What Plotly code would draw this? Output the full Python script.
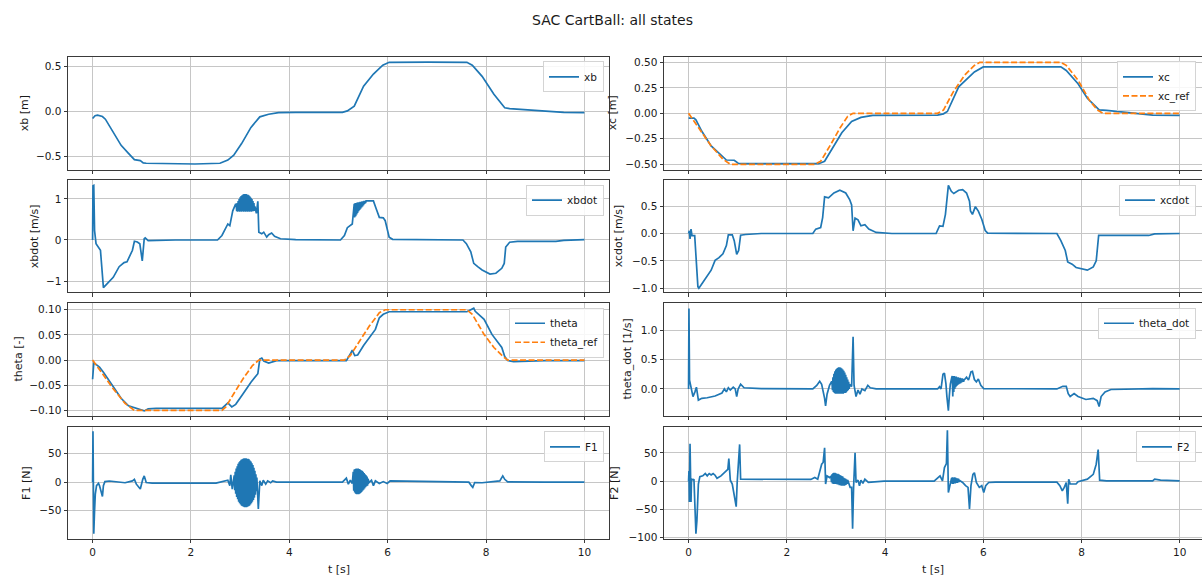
import numpy as np
import plotly.graph_objects as go

# ---------------------------------------------------------------- data
SAMPLE_DT = 0.01  # controller sample time used for the high-rate bursts

xb_pts = [(0, -0.08), (0.05, -0.05), (0.1, -0.044), (0.2, -0.058), (0.26, -0.088), (0.42, -0.23),
          (0.58, -0.38), (0.73, -0.47), (0.85, -0.54), (0.97, -0.55), (1.03, -0.575), (1.09, -0.58),
          (1.45, -0.584), (2.08, -0.588), (2.59, -0.58), (2.75, -0.544), (2.87, -0.49), (3.03, -0.36),
          (3.22, -0.18), (3.4, -0.062), (3.58, -0.033), (3.78, -0.015), (4.13, -0.011), (5.08, -0.011),
          (5.18, 0.004), (5.32, 0.058), (5.51, 0.28), (5.71, 0.416), (5.9, 0.515), (6.03, 0.547),
          (6.82, 0.548), (7.61, 0.547), (7.72, 0.515), (7.92, 0.39), (8.16, 0.19), (8.38, 0.04),
          (8.48, 0.03), (9.19, 0.004), (9.58, -0.011), (10, -0.015)]

xc_pts = [(0, -0.047), (0.11, -0.047), (0.15, -0.063), (0.27, -0.176), (0.46, -0.32), (0.66, -0.41),
          (0.77, -0.458), (0.93, -0.46), (1.01, -0.49), (1.16, -0.494), (2.1, -0.497), (2.65, -0.494),
          (2.77, -0.47), (2.92, -0.355), (3.12, -0.19), (3.32, -0.08), (3.51, -0.04), (3.75, -0.02),
          (5.07, -0.018), (5.19, -0.005), (5.27, 0.018), (5.5, 0.26), (5.7, 0.35), (5.82, 0.406),
          (6.0, 0.455), (7.58, 0.455), (7.69, 0.42), (7.93, 0.29), (8.12, 0.147), (8.36, 0.034),
          (8.51, 0.028), (9.14, 0.002), (9.45, -0.018), (10, -0.02)]

xc_ref_pts = [(0, 0), (0.23, -0.16), (0.46, -0.32), (0.7, -0.45), (0.85, -0.5), (2.57, -0.5),
              (2.69, -0.47), (2.89, -0.31), (3.08, -0.146), (3.24, -0.03), (3.35, 0), (5.07, 0),
              (5.19, 0.032), (5.39, 0.21), (5.62, 0.373), (5.82, 0.47), (5.93, 0.5), (7.58, 0.5),
              (7.69, 0.47), (7.93, 0.325), (8.16, 0.13), (8.32, 0.034), (8.44, 0), (10, 0)]

xbdot_pts = [(0, 0), (0.008, 1.32), (0.024, 1.33), (0.04, 0.23), (0.07, -0.09), (0.12, -0.17),
             (0.16, -0.25), (0.22, -1.16), (0.3, -1.05), (0.42, -0.91), (0.54, -0.65), (0.64, -0.55),
             (0.7, -0.53), (0.81, -0.25), (0.85, -0.03), (0.91, -0.05), (0.96, -0.09), (1.01, -0.51),
             (1.05, 0.03), (1.07, 0.05), (1.13, -0.016), (1.29, -0.008), (1.68, 0), (2.54, 0),
             (2.63, 0.11), (2.75, 0.39), (2.79, 0.35), (2.85, 0.71), (2.91, 0.88),
             (3.33, 0.65), (3.36, 0.94), (3.38, 0.19), (3.44, 0.15), (3.48, 0.19), (3.54, 0.07),
             (3.58, 0.13), (3.64, 0.17), (3.7, 0.09), (3.82, 0.03), (4.13, 0.008), (5.04, 0),
             (5.12, 0.11), (5.18, 0.3), (5.24, 0.35), (5.28, 0.39),
             (5.58, 0.95), (5.71, 0.95), (5.77, 0.75), (5.83, 0.55), (5.91, 0.54), (5.95, 0.47),
             (6.03, 0.07), (6.1, 0.016), (7.53, 0), (7.6, -0.09), (7.69, -0.29), (7.75, -0.57),
             (7.83, -0.65), (7.92, -0.73), (8.08, -0.83), (8.2, -0.81), (8.32, -0.69), (8.37, -0.57),
             (8.4, -0.17), (8.48, -0.056), (8.64, -0.032), (9.42, -0.032), (9.58, -0.008), (10, 0.008)]
xbdot_burst1 = (2.92, [0.86, 0.70, 0.90, 0.69, 0.95, 0.70, 1.00, 0.69, 1.04, 0.70, 1.07, 0.69, 1.09,
                       0.70, 1.11, 0.69, 1.12, 0.70, 1.12, 0.69, 1.12, 0.70, 1.11, 0.69, 1.10, 0.70,
                       1.08, 0.69, 1.06, 0.70, 1.03, 0.69, 1.00, 0.70, 0.95, 0.70, 0.90, 0.71, 0.82])
xbdot_burst2 = (5.32, [0.88, 0.55, 0.90, 0.58, 0.90, 0.62, 0.91, 0.66, 0.92, 0.70, 0.92, 0.73, 0.93,
                       0.76, 0.93, 0.79, 0.94, 0.82, 0.94, 0.85, 0.95, 0.88, 0.95, 0.90, 0.95])

xcdot_pts = [(0, 0), (0.016, 0.05), (0.03, -0.1), (0.05, 0.08), (0.07, -0.04), (0.125, -0.04),
             (0.19, -0.97), (0.21, -1.0), (0.3, -0.88), (0.46, -0.67), (0.54, -0.49), (0.62, -0.44),
             (0.7, -0.37), (0.77, -0.22), (0.81, -0.024), (0.89, -0.024), (0.93, -0.13), (0.98, -0.38),
             (1.02, -0.31), (1.06, -0.03), (1.16, -0.018), (1.48, 0), (2.53, 0), (2.59, 0.08),
             (2.69, 0.11), (2.73, 0.29), (2.77, 0.67), (2.85, 0.65), (2.96, 0.74), (3.08, 0.79),
             (3.2, 0.74), (3.28, 0.62), (3.32, 0.52), (3.35, 0.05), (3.39, 0.28), (3.45, 0.25),
             (3.51, 0.14), (3.59, 0.16), (3.67, 0.08), (3.82, 0.02), (4.14, 0), (5.04, 0),
             (5.11, 0.14), (5.18, 0.13), (5.23, 0.35), (5.29, 0.88), (5.35, 0.77), (5.4, 0.73),
             (5.5, 0.79), (5.58, 0.8), (5.66, 0.74), (5.72, 0.59), (5.74, 0.41), (5.78, 0.35),
             (5.84, 0.49), (5.9, 0.41), (5.97, 0.26), (6.04, 0.054), (6.09, 0.006), (7.5, 0),
             (7.58, -0.13), (7.67, -0.31), (7.72, -0.52), (7.81, -0.56), (7.89, -0.62), (8.0, -0.65),
             (8.12, -0.67), (8.24, -0.61), (8.3, -0.5), (8.35, -0.036), (8.43, -0.036),
             (9.37, -0.036), (9.49, -0.006), (10, 0)]

theta_pts = [(0, -0.038), (0.024, -0.006), (0.063, -0.008), (0.14, -0.014), (0.22, -0.024),
             (0.42, -0.053), (0.58, -0.076), (0.73, -0.091), (0.89, -0.096), (1.05, -0.101),
             (1.13, -0.097), (1.29, -0.096), (2.63, -0.096), (2.75, -0.085), (2.83, -0.093),
             (2.91, -0.088), (3.06, -0.067), (3.22, -0.044), (3.36, -0.027), (3.4, 0.002),
             (3.44, 0.004), (3.48, -0.002), (3.58, -0.006), (3.74, -0.001), (4.05, -0.001),
             (5.16, -0.001), (5.24, 0.012), (5.28, 0.02), (5.33, 0.009), (5.39, 0.010), (5.51, 0.029),
             (5.67, 0.051), (5.75, 0.061), (5.83, 0.084), (5.91, 0.091), (6.03, 0.096), (7.61, 0.096),
             (7.69, 0.1), (7.75, 0.103), (7.78, 0.097), (7.96, 0.081), (8.12, 0.051), (8.32, 0.025),
             (8.38, 0.007), (8.44, -0.001), (8.56, -0.003), (9.19, -0.001), (10, -0.001)]

theta_ref_pts = [(0, 0), (0.18, -0.024), (0.42, -0.057), (0.66, -0.086), (0.85, -0.1), (2.63, -0.1),
                 (2.71, -0.093), (2.87, -0.067), (3.06, -0.037), (3.25, -0.011), (3.38, 0), (5.12, 0),
                 (5.24, 0.009), (5.43, 0.038), (5.63, 0.068), (5.83, 0.094), (5.95, 0.1), (7.61, 0.1),
                 (7.72, 0.091), (7.96, 0.051), (8.16, 0.025), (8.36, 0.006), (8.44, 0), (10, 0)]

theta_dot_pts = [(0, 0), (0.008, 1.37), (0.02, 0.15), (0.05, 0.0), (0.09, -0.13), (0.13, -0.05),
                 (0.16, 0.03), (0.2, -0.19), (0.27, -0.16), (0.38, -0.15), (0.54, -0.12), (0.68, -0.07),
                 (0.73, 0.0), (0.77, -0.05), (0.81, 0.02), (0.85, -0.02), (0.91, 0.03), (0.95, 0),
                 (0.98, -0.13), (1.01, 0), (1.06, 0.08), (1.13, 0.02), (1.48, 0.006), (2.53, 0),
                 (2.61, 0.06), (2.67, 0.13), (2.71, 0.08), (2.77, -0.16), (2.79, -0.29), (2.82, -0.09),
                 (2.87, 0.06), (2.91, 0.12),
                 (3.32, 0.04), (3.35, 0.89), (3.37, 0.06), (3.41, -0.13), (3.45, -0.02), (3.49, -0.09),
                 (3.53, 0), (3.59, -0.03), (3.65, 0.06), (3.7, 0.02), (3.82, 0), (5.07, 0), (5.11, 0.04),
                 (5.14, 0), (5.15, 0.06), (5.18, 0.25), (5.21, 0.27), (5.24, 0.09), (5.26, -0.13),
                 (5.29, -0.37), (5.31, -0.11), (5.33, 0.08), (5.36, 0.2),
                 (5.62, 0.16), (5.66, 0.2), (5.7, 0.15), (5.75, 0.29), (5.78, 0.3), (5.82, 0.16),
                 (5.86, 0.12), (5.9, 0.17), (5.95, 0.06), (6.01, 0.006), (7.5, 0), (7.62, 0.045),
                 (7.69, 0.045), (7.73, -0.08), (7.77, -0.13), (7.85, -0.08), (7.93, -0.13),
                 (8.09, -0.18), (8.24, -0.16), (8.32, -0.2), (8.36, -0.3), (8.4, -0.13), (8.48, -0.05),
                 (8.6, -0.01), (9.14, 0), (9.45, 0.006), (10, 0)]
theta_dot_burst1 = (2.92, [0.12, -0.02, 0.20, -0.05, 0.26, -0.07, 0.30, -0.08, 0.33, -0.08, 0.35,
                           -0.08, 0.36, -0.08, 0.37, -0.08, 0.37, -0.08, 0.36, -0.08, 0.35, -0.08,
                           0.33, -0.08, 0.31, -0.07, 0.28, -0.07, 0.24, -0.06, 0.20, -0.04, 0.16,
                           -0.02, 0.12, 0.00, 0.08])
theta_dot_burst2 = (5.37, [0.22, -0.13, 0.22, -0.05, 0.22, 0.00, 0.21, 0.03, 0.21, 0.05, 0.20, 0.07,
                           0.20, 0.08, 0.19, 0.09, 0.19, 0.10, 0.18, 0.11, 0.18, 0.12, 0.17, 0.12, 0.17])

F1_pts = [(0, 0), (0.008, 89), (0.016, 0), (0.024, -90), (0.04, -50), (0.055, -21), (0.08, -6),
          (0.12, -2), (0.14, -6), (0.17, -15), (0.2, -25), (0.22, -6), (0.25, 1), (0.34, 2),
          (0.5, 0.6), (0.66, -1), (0.81, 2.3), (0.85, 5), (0.89, -3.5), (0.97, -12), (1.02, 5),
          (1.05, 11), (1.09, -0.6), (1.21, -1.7), (2.51, -1.7), (2.67, 2.3), (2.75, 3.5), (2.79, -6),
          (2.81, 13), (2.84, -12), (2.87, 2),
          (3.37, -47), (3.4, 2.3), (3.44, -6), (3.47, 3.5), (3.52, -3.5), (3.56, 2.3), (3.62, -1),
          (3.66, 2.3), (3.74, 0), (5.08, 0), (5.16, 7), (5.2, -3.5), (5.24, 3.5), (5.28, -2.3),
          (5.62, -0.6), (5.67, 3.5), (5.71, -6), (5.75, 2.3), (5.83, -2.3), (5.91, 1), (5.99, -2.3),
          (6.05, 2.3), (6.82, 1.7), (7.53, 1), (7.65, 0), (7.7, -6), (7.73, -9), (7.77, -0.6),
          (7.92, -1), (8.28, 2.3), (8.34, 11), (8.38, 5), (8.44, 0.6), (9.19, 0), (10, 0)]
F1_burst1 = (2.88, [12, -14, 18, -20, 24, -26, 28, -30, 32, -34, 35, -37, 37, -39, 39, -41, 40, -42,
                    41, -43, 42, -44, 42, -44, 42, -44, 41, -43, 41, -42, 40, -41, 38, -39, 36, -37,
                    33, -34, 30, -31, 25, -27, 20, -22, 14, -16, 8])
F1_burst2 = (5.30, [18, -15, 22, -18, 23, -20, 24, -21, 24, -21, 24, -21, 23, -20, 22, -19, 21, -17,
                    20, -15, 18, -13, 16, -11, 14, -9, 12, -7, 10, -6, 6])

F2_pts = [(0, 0), (0.008, 18), (0.016, -37), (0.03, 66), (0.05, -37), (0.06, 3.5), (0.09, 2.3),
          (0.11, 3.5), (0.15, -93), (0.17, -70), (0.2, -5), (0.23, 8), (0.29, 9.4), (0.34, 13.5),
          (0.38, 9.4), (0.42, 13.5), (0.46, 11), (0.5, 13.5), (0.54, 10.5), (0.58, 5), (0.66, 9.4),
          (0.73, 15), (0.8, 21), (0.82, 40), (0.85, 1.8), (0.89, -5), (0.95, -40), (0.97, -45),
          (0.99, -2.3), (1.02, 47), (1.04, 65), (1.06, 3.5), (1.16, 3.5), (2.49, 3), (2.57, 6.4),
          (2.63, 3.5), (2.71, 30), (2.74, 33), (2.77, 59), (2.79, -5), (2.82, 9.4), (2.87, 6.4),
          (3.26, -2.3), (3.29, -11), (3.32, -11), (3.34, -84), (3.36, -11), (3.39, 50), (3.41, -2.3),
          (3.45, 1.8), (3.48, -8), (3.51, 1.8), (3.55, -4), (3.59, 3.5), (3.66, -2.3), (3.82, -0.6),
          (3.98, 0), (5.0, 0), (5.07, 6.4), (5.12, 9.4), (5.17, 0.6), (5.21, 24), (5.25, 31),
          (5.27, 90), (5.29, -20), (5.32, -5), (5.35, 3.5),
          (5.53, 0.6), (5.58, -2.3), (5.64, -8), (5.69, -11), (5.72, -49), (5.75, -8), (5.79, 12),
          (5.82, 15), (5.86, -2.3), (5.92, -11), (5.97, -8), (6.01, -20), (6.05, -8), (6.11, -2.3),
          (6.25, -1.8), (7.5, -1.8), (7.56, -8), (7.61, -17), (7.65, -11), (7.69, -2.3), (7.72, -40),
          (7.74, 3.5), (7.77, -5), (7.89, -5), (7.93, -1), (8.12, 3.5), (8.24, 12), (8.3, 30),
          (8.34, 56), (8.37, 1.8), (8.51, 0.6), (9.45, 0.6), (9.49, 3.5), (9.61, 1.8), (10, 0.6)]
F2_burst1 = (2.90, [9, -2, 12, -4, 14, -5, 15, -5, 15, -5, 14, -5, 13, -6, 13, -6, 12, -7, 11, -7,
                    10, -8, 9, -8, 8, -8, 6, -8, 5, -7, 4, -6, 3, -5, 2])
F2_burst2 = (5.36, [6, -5, 7, -5, 6, -4, 7, -4, 6, -3, 5, -3, 5, -2, 4, -1])

# axis ticks
t_ticks = [0, 2, 4, 6, 8, 10]
xb_ticks = [-0.5, 0.0, 0.5]
xc_ticks = [-0.5, -0.25, 0.0, 0.25, 0.5]
xbdot_ticks = [-1, 0, 1]
xcdot_ticks = [-1.0, -0.5, 0.0, 0.5]
theta_ticks = [-0.1, -0.05, 0.0, 0.05, 0.1]
theta_dot_ticks = [0.0, 0.5, 1.0]
F1_ticks = [-50, 0, 50]
F2_ticks = [-100, -50, 0, 50]


def series(pts, *bursts):
    t = [p[0] for p in pts]
    v = [p[1] for p in pts]
    for t0, vals in bursts:
        t += [t0 + i * SAMPLE_DT for i in range(len(vals))]
        v += list(vals)
    order = np.argsort(t, kind="stable")
    return np.asarray(t)[order], np.asarray(v)[order]


# ---------------------------------------------------------------- layout geometry
W, H = 1202, 575
BLUE, ORANGE = "#1f77b4", "#ff7f0e"
FONT = "DejaVu Sans"
SPINE = "#3a3a3a"
GRID = "#c6c6c6"

col_px = [(68, 609), (664, 1202)]
row_px = [(56.5, 170.5), (181, 294.5), (305.5, 419), (430.5, 543.5)]
x_ranges = [[-0.5, 10.5], [-0.5, 10.454]]


def xdom(c):
    a, b = col_px[c]
    return [a / W, min(b / W, 1.0)]


def ydom(r):
    a, b = row_px[r]
    return [1 - b / H, 1 - a / H]


panels = [
    # (row, col, traces, ylabel, ylabel_x_px, ticks, fmt, yrange)
    (0, 0, [("xb", series(xb_pts), BLUE, None)], "xb [m]", 24, xb_ticks, ".1f", [-0.652, 0.607]),
    (0, 1, [("xc", series(xc_pts), BLUE, None), ("xc_ref", series(xc_ref_pts), ORANGE, "6px,2.5px")],
     "xc [m]", 612, xc_ticks, ".2f", [-0.553, 0.553]),
    (1, 0, [("xbdot", series(xbdot_pts, xbdot_burst1, xbdot_burst2), BLUE, None)],
     "xbdot [m/s]", 34, xbdot_ticks, "d", [-1.277, 1.458]),
    (1, 1, [("xcdot", series(xcdot_pts), BLUE, None)], "xcdot [m/s]", 618, xcdot_ticks, ".1f",
     [-1.076, 0.975]),
    (2, 0, [("theta", series(theta_pts), BLUE, None), ("theta_ref", series(theta_ref_pts), ORANGE, "6px,2.5px")],
     "theta [-]", 18, theta_ticks, ".2f", [-0.1104, 0.1128]),
    (2, 1, [("theta_dot", series(theta_dot_pts, theta_dot_burst1, theta_dot_burst2), BLUE, None)],
     "theta_dot [1/s]", 627, theta_dot_ticks, ".1f", [-0.455, 1.459]),
    (3, 0, [("F1", series(F1_pts, F1_burst1, F1_burst2), BLUE, None)], "F1 [N]", 27, F1_ticks, "d",
     [-99, 96.4]),
    (3, 1, [("F2", series(F2_pts, F2_burst1, F2_burst2), BLUE, None)], "F2 [N]", 615, F2_ticks, "d",
     [-102, 95.8]),
]

fig = go.Figure()
layout = dict(
    width=W, height=H,
    margin=dict(l=0, r=0, t=0, b=0),
    paper_bgcolor="white", plot_bgcolor="white",
    font=dict(family=FONT, size=10.5, color="#1a1a1a"),
    showlegend=True,
    annotations=[],
)

for i, (r, c, traces, ylabel, ylab_x, yticks, fmt, yrange) in enumerate(panels):
    n = i + 1
    xa = "x" if n == 1 else f"x{n}"
    ya = "y" if n == 1 else f"y{n}"
    leg = "legend" if n == 1 else f"legend{n}"
    for name, (t, v), color, dash in traces:
        fig.add_trace(go.Scatter(
            x=t, y=v, mode="lines", name=name, xaxis=xa, yaxis=ya, legend=leg,
            line=dict(color=color, width=1.7, dash=dash if dash else "solid"),
            hoverinfo="skip",
        ))
    bottom = r == 3
    layout["xaxis" if n == 1 else f"xaxis{n}"] = dict(
        domain=xdom(c), anchor=ya, range=x_ranges[c], tickvals=t_ticks,
        showticklabels=bottom, ticks="outside", ticklen=3.5, tickwidth=0.8, tickcolor=SPINE,
        showgrid=True, gridcolor=GRID, gridwidth=0.9, zeroline=False,
        showline=True, linecolor=SPINE, linewidth=1, mirror=True,
        tickfont=dict(family=FONT, size=10.5, color="#1a1a1a"),
    )
    layout["yaxis" if n == 1 else f"yaxis{n}"] = dict(
        domain=ydom(r), anchor=xa, range=yrange, tickvals=yticks, tickformat=fmt,
        ticks="outside", ticklen=3.5, tickwidth=0.8, tickcolor=SPINE,
        showgrid=True, gridcolor=GRID, gridwidth=0.9, zeroline=False,
        showline=True, linecolor=SPINE, linewidth=1, mirror=(c == 0),
        tickfont=dict(family=FONT, size=10.5, color="#1a1a1a"),
    )
    right_px = 604 if c == 0 else 1196
    layout[leg] = dict(
        x=right_px / W, y=1 - (row_px[r][0] + 4.5) / H, xanchor="right", yanchor="top",
        xref="paper", yref="paper",
        bgcolor="rgba(255,255,255,0.85)", bordercolor="#d4d4d4", borderwidth=1,
        font=dict(family=FONT, size=10.5, color="#1a1a1a"),
        itemwidth=30, tracegroupgap=0,
    )
    yc = 1 - (row_px[r][0] + row_px[r][1]) / 2 / H
    layout["annotations"].append(dict(
        text=ylabel, x=ylab_x / W, y=yc, xref="paper", yref="paper", showarrow=False,
        textangle=-90, xanchor="center", yanchor="middle",
        font=dict(family=FONT, size=11, color="#1a1a1a"),
    ))

# x-axis titles under the bottom row
for c in range(2):
    a, b = col_px[c]
    layout["annotations"].append(dict(
        text="t [s]", x=(a + min(b, 1204)) / 2 / W, y=1 - 574 / H, xref="paper", yref="paper",
        showarrow=False, xanchor="center", yanchor="middle",
        font=dict(family=FONT, size=11, color="#1a1a1a"),
    ))

# figure title
layout["annotations"].append(dict(
    text="SAC CartBall: all states", x=612 / W, y=1 - 19 / H, xref="paper", yref="paper",
    showarrow=False, xanchor="center", yanchor="middle",
    font=dict(family=FONT, size=14, color="#1a1a1a"),
))

fig.update_layout(**layout)
fig.write_html("out.html")
